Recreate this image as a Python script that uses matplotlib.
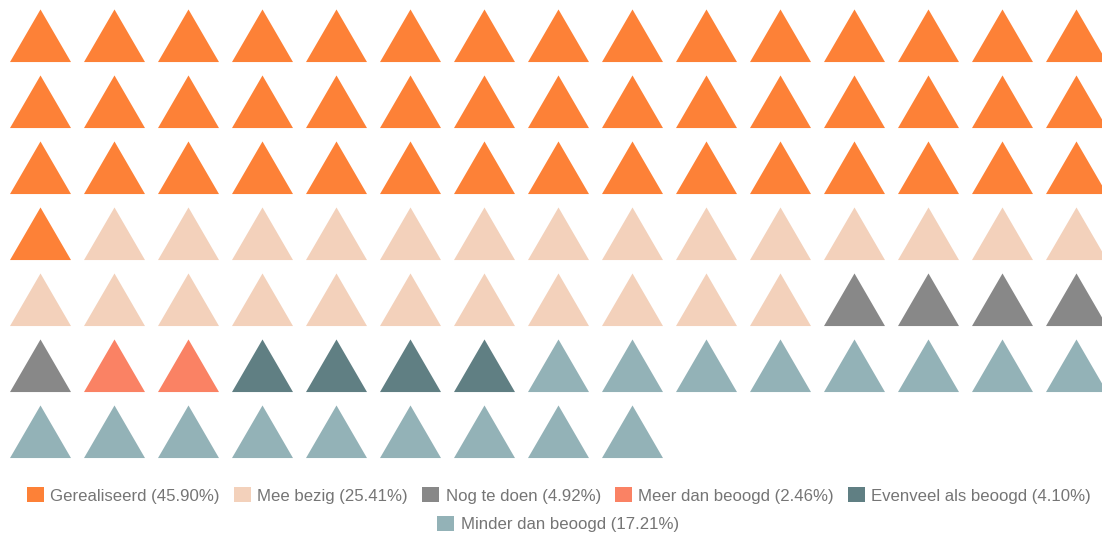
import matplotlib
matplotlib.use("Agg")
import matplotlib.pyplot as plt
from matplotlib.patches import Polygon, Patch

categories = ["Gerealiseerd", "Mee bezig", "Nog te doen", "Meer dan beoogd",
              "Evenveel als beoogd", "Minder dan beoogd"]
percentages = [45.90, 25.41, 4.92, 2.46, 4.10, 17.21]
counts = [46, 25, 5, 2, 4, 17]
colors = ["#fd8137", "#f3d1bb", "#888888", "#fa8264", "#607f83", "#93b2b7"]
n_cols = 15

W, H, DPI = 1102, 535, 100
fig = plt.figure(figsize=(W / DPI, H / DPI), dpi=DPI)
ax = fig.add_axes([0, 0, 1, 1])

# grid geometry (px -> grid units)
x0, dx = 40.5, 74.0
y0, dy = 35.75, 66.0
ax.set_xlim((0 - x0) / dx, (W - x0) / dx)
ax.set_ylim((H - y0) / dy, (0 - y0) / dy)
ax.axis("off")

half_w = 30.5 / dx
half_h = 26.3 / dy

idx = 0
for cat, n, col in zip(categories, counts, colors):
    for _ in range(n):
        r, c = divmod(idx, n_cols)
        tri = Polygon([(c - half_w, r + half_h), (c + half_w, r + half_h), (c, r - half_h)],
                      closed=True, facecolor=col, edgecolor="none")
        ax.add_patch(tri)
        idx += 1

font = "Liberation Sans"
handles = [Patch(facecolor=c, edgecolor="none", label=f"{cat} ({p:.2f}%)")
           for cat, p, c in zip(categories, percentages, colors)]

leg_kw = dict(frameon=False, handlelength=1.0, handleheight=1.0, handletextpad=0.4,
              columnspacing=0.83, borderaxespad=0, borderpad=0,
              prop={"family": font, "size": 12.1}, labelcolor="#757575")
leg1 = fig.legend(handles=handles[:5], ncol=5, loc="center",
                  bbox_to_anchor=(559 / W, 1 - 495.5 / H), **leg_kw)
leg2 = fig.legend(handles=handles[5:], ncol=1, loc="center",
                  bbox_to_anchor=(558 / W, 1 - 524 / H), **leg_kw)

fig.savefig("out.png", dpi=DPI)
